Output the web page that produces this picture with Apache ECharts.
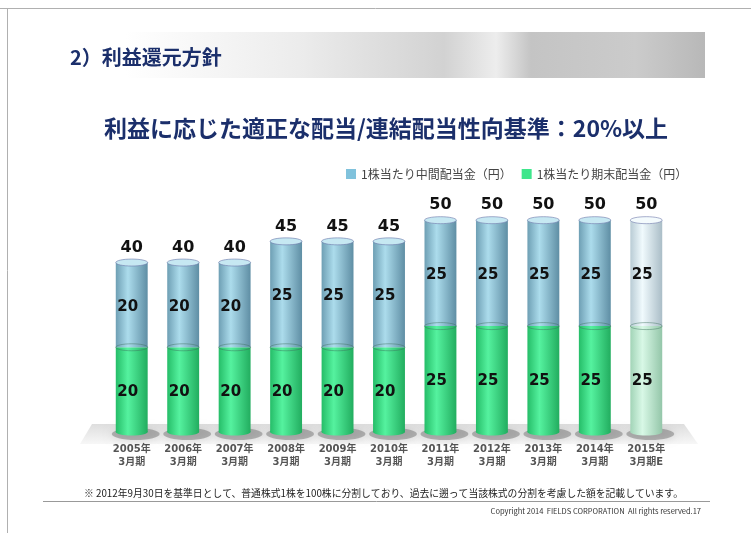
<!DOCTYPE html>
<html>
<head>
<meta charset="utf-8">
<script src="https://cdn.jsdelivr.net/npm/echarts@6/dist/echarts.min.js"></script>
<style>
  html, body { margin: 0; padding: 0; background: #fff; }
  #main { width: 751px; height: 533px; }
</style>
</head>
<body>
<div id="main"></div>
<script>
var categories = ['2005年\n3月期', '2006年\n3月期', '2007年\n3月期', '2008年\n3月期', '2009年\n3月期', '2010年\n3月期',
  '2011年\n3月期', '2012年\n3月期', '2013年\n3月期', '2014年\n3月期', '2015年\n3月期E'];
var interim = [20, 20, 20, 25, 25, 25, 25, 25, 25, 25, 25];   // 中間 (blue, upper)
var yearEnd = [20, 20, 20, 20, 20, 20, 25, 25, 25, 25, 25];   // 期末 (green, lower)
var totals = [40, 40, 40, 45, 45, 45, 50, 50, 50, 50, 50];
var forecastIndex = 10;

var NAME_INTERIM = '1株当たり中間配当金（円）';
var NAME_END = '1株当たり期末配当金（円）';
var NAVY = '#1b2f6b';
var JP = '"Noto Sans CJK JP", sans-serif';
var NUM = '"DejaVu Sans", "Noto Sans CJK JP", sans-serif';

var palette = {
  blue: ['#6e9fb4', '#acdcec', '#5f8ea4', '#c6e8f2'],
  green: ['#25bd68', '#55f29f', '#22ad5f', '#7cf5b5'],
  blueE: ['#b9ccd5', '#f0fafd', '#aabdc7', '#f4fbfd'],
  greenE: ['#a2d4b7', '#d8f8e6', '#94c6a9', '#e2faec']
};

function cylGrad(p) {
  return new echarts.graphic.LinearGradient(0, 0, 1, 0, [
    { offset: 0, color: p[0] },
    { offset: 0.38, color: p[1] },
    { offset: 1, color: p[2] }
  ]);
}

function makeRender(isTop) {
  return function (params, api) {
    var i = api.value(0);
    var base = api.value(1);
    var val = api.value(2);
    var lo = api.coord([i, base]);
    var hi = api.coord([i, base + val]);
    var w = api.size([1, 0])[0] * 0.62;
    var ry = 3.5;
    var est = i === forecastIndex;
    var p = isTop ? (est ? palette.blueE : palette.blue) : (est ? palette.greenE : palette.green);
    var grad = cylGrad(p);
    var kids = [];
    if (!isTop) {
      kids.push({
        type: 'ellipse',
        shape: { cx: lo[0] + 4, cy: lo[1] + 2, rx: w / 2 + 8, ry: 6 },
        style: { fill: 'rgba(90,90,90,0.4)', shadowBlur: 8, shadowColor: 'rgba(0,0,0,0.3)' }
      });
      kids.push({
        type: 'ellipse',
        shape: { cx: lo[0], cy: lo[1], rx: w / 2, ry: ry },
        style: { fill: grad }
      });
    }
    kids.push({
      type: 'rect',
      shape: { x: lo[0] - w / 2, y: hi[1], width: w, height: lo[1] - hi[1] },
      style: { fill: grad }
    });
    if (isTop) {
      kids.push({
        type: 'ellipse',
        shape: { cx: lo[0], cy: lo[1], rx: w / 2, ry: ry },
        style: { fill: 'none', stroke: 'rgba(60,110,90,0.45)', lineWidth: 1 }
      });
      kids.push({
        type: 'ellipse',
        shape: { cx: hi[0], cy: hi[1], rx: w / 2, ry: ry },
        style: { fill: p[3], stroke: 'rgba(110,120,170,0.6)', lineWidth: 1 }
      });
      kids.push({
        type: 'text',
        style: {
          text: String(totals[i]), x: hi[0], y: hi[1] - 15,
          align: 'center', verticalAlign: 'middle',
          font: 'bold 16px ' + NUM, fill: '#111'
        }
      });
    }
    kids.push({
      type: 'text',
      style: {
        text: String(val), x: lo[0] - 4, y: (lo[1] + hi[1]) / 2 + 2,
        align: 'center', verticalAlign: 'middle',
        font: 'bold 15px ' + NUM, fill: '#111'
      }
    });
    return { type: 'group', children: kids };
  };
}

var chartDom = document.getElementById('main');
var myChart = echarts.init(chartDom);
var option;

option = {
  animation: false,
  graphic: [
    { type: 'line', shape: { x1: 0, y1: 8.5, x2: 751, y2: 8.5 }, style: { stroke: '#b0b0b0', lineWidth: 1 } },
    { type: 'line', shape: { x1: 7.5, y1: 8, x2: 7.5, y2: 533 }, style: { stroke: '#b0b0b0', lineWidth: 1 } },
    {
      type: 'rect', shape: { x: 125, y: 32, width: 580, height: 46 },
      style: {
        fill: new echarts.graphic.LinearGradient(0, 0, 1, 0, [
          { offset: 0, color: '#ffffff' },
          { offset: 0.3, color: '#ececec' },
          { offset: 0.55, color: '#d2d2d2' },
          { offset: 0.64, color: '#ededed' },
          { offset: 0.7, color: '#c4c4c4' },
          { offset: 0.88, color: '#cbcbcb' },
          { offset: 1, color: '#b8b8b8' }
        ])
      }
    },
    {
      type: 'text', style: {
        text: '2）利益還元方針', x: 70, y: 57, verticalAlign: 'middle',
        font: 'bold 20px ' + JP, fill: NAVY
      }
    },
    {
      type: 'text', style: {
        text: '利益に応じた適正な配当/連結配当性向基準：20%以上', x: 386, y: 128,
        align: 'center', verticalAlign: 'middle',
        font: 'bold 23px ' + JP, fill: NAVY
      }
    },
    {
      type: 'polygon', z: 0,
      shape: { points: [[92, 424], [684, 424], [698, 444], [80, 444]] },
      style: {
        fill: new echarts.graphic.LinearGradient(0, 0, 0, 1, [
          { offset: 0, color: '#dedede' },
          { offset: 1, color: '#f7f7f7' }
        ])
      }
    },
    {
      type: 'text', style: {
        text: '※ 2012年9月30日を基準日として、普通株式1株を100株に分割しており、過去に遡って当該株式の分割を考慮した額を記載しています。',
        x: 84, y: 493, verticalAlign: 'middle', font: '9.8px ' + JP, fill: '#222'
      }
    },
    { type: 'line', shape: { x1: 43, y1: 501.5, x2: 710, y2: 501.5 }, style: { stroke: '#999', lineWidth: 1 } },
    {
      type: 'text', style: {
        text: 'Copyright 2014  FIELDS CORPORATION  All rights reserved.17',
        x: 701, y: 511, align: 'right', verticalAlign: 'middle', font: '7.5px ' + JP, fill: '#333'
      }
    }
  ],
  legend: {
    data: [NAME_INTERIM, NAME_END],
    left: 341, top: 163,
    itemWidth: 10, itemHeight: 10, itemGap: 10,
    icon: 'rect',
    textStyle: { fontSize: 12, color: '#444', fontFamily: JP }
  },
  grid: { left: 106, right: 79, top: 199, bottom: 101 },
  xAxis: {
    type: 'category',
    data: categories,
    axisLine: { show: false },
    axisTick: { show: false },
    axisLabel: {
      margin: 11, color: '#555', fontSize: 10, fontWeight: 'bold',
      lineHeight: 13, fontFamily: NUM
    }
  },
  yAxis: {
    type: 'value', min: 0, max: 55, show: false, splitLine: { show: false }
  },
  series: [
    {
      name: NAME_END,
      type: 'custom',
      renderItem: makeRender(false),
      itemStyle: { color: '#3fe68c' },
      encode: { x: 0, y: [1, 2] },
      data: yearEnd.map(function (v, i) { return [i, 0, v]; })
    },
    {
      name: NAME_INTERIM,
      type: 'custom',
      renderItem: makeRender(true),
      itemStyle: { color: '#80c2dc' },
      encode: { x: 0, y: [1, 2] },
      data: interim.map(function (v, i) { return [i, yearEnd[i], v]; })
    }
  ]
};
option && myChart.setOption(option);
</script>
</body>
</html>
